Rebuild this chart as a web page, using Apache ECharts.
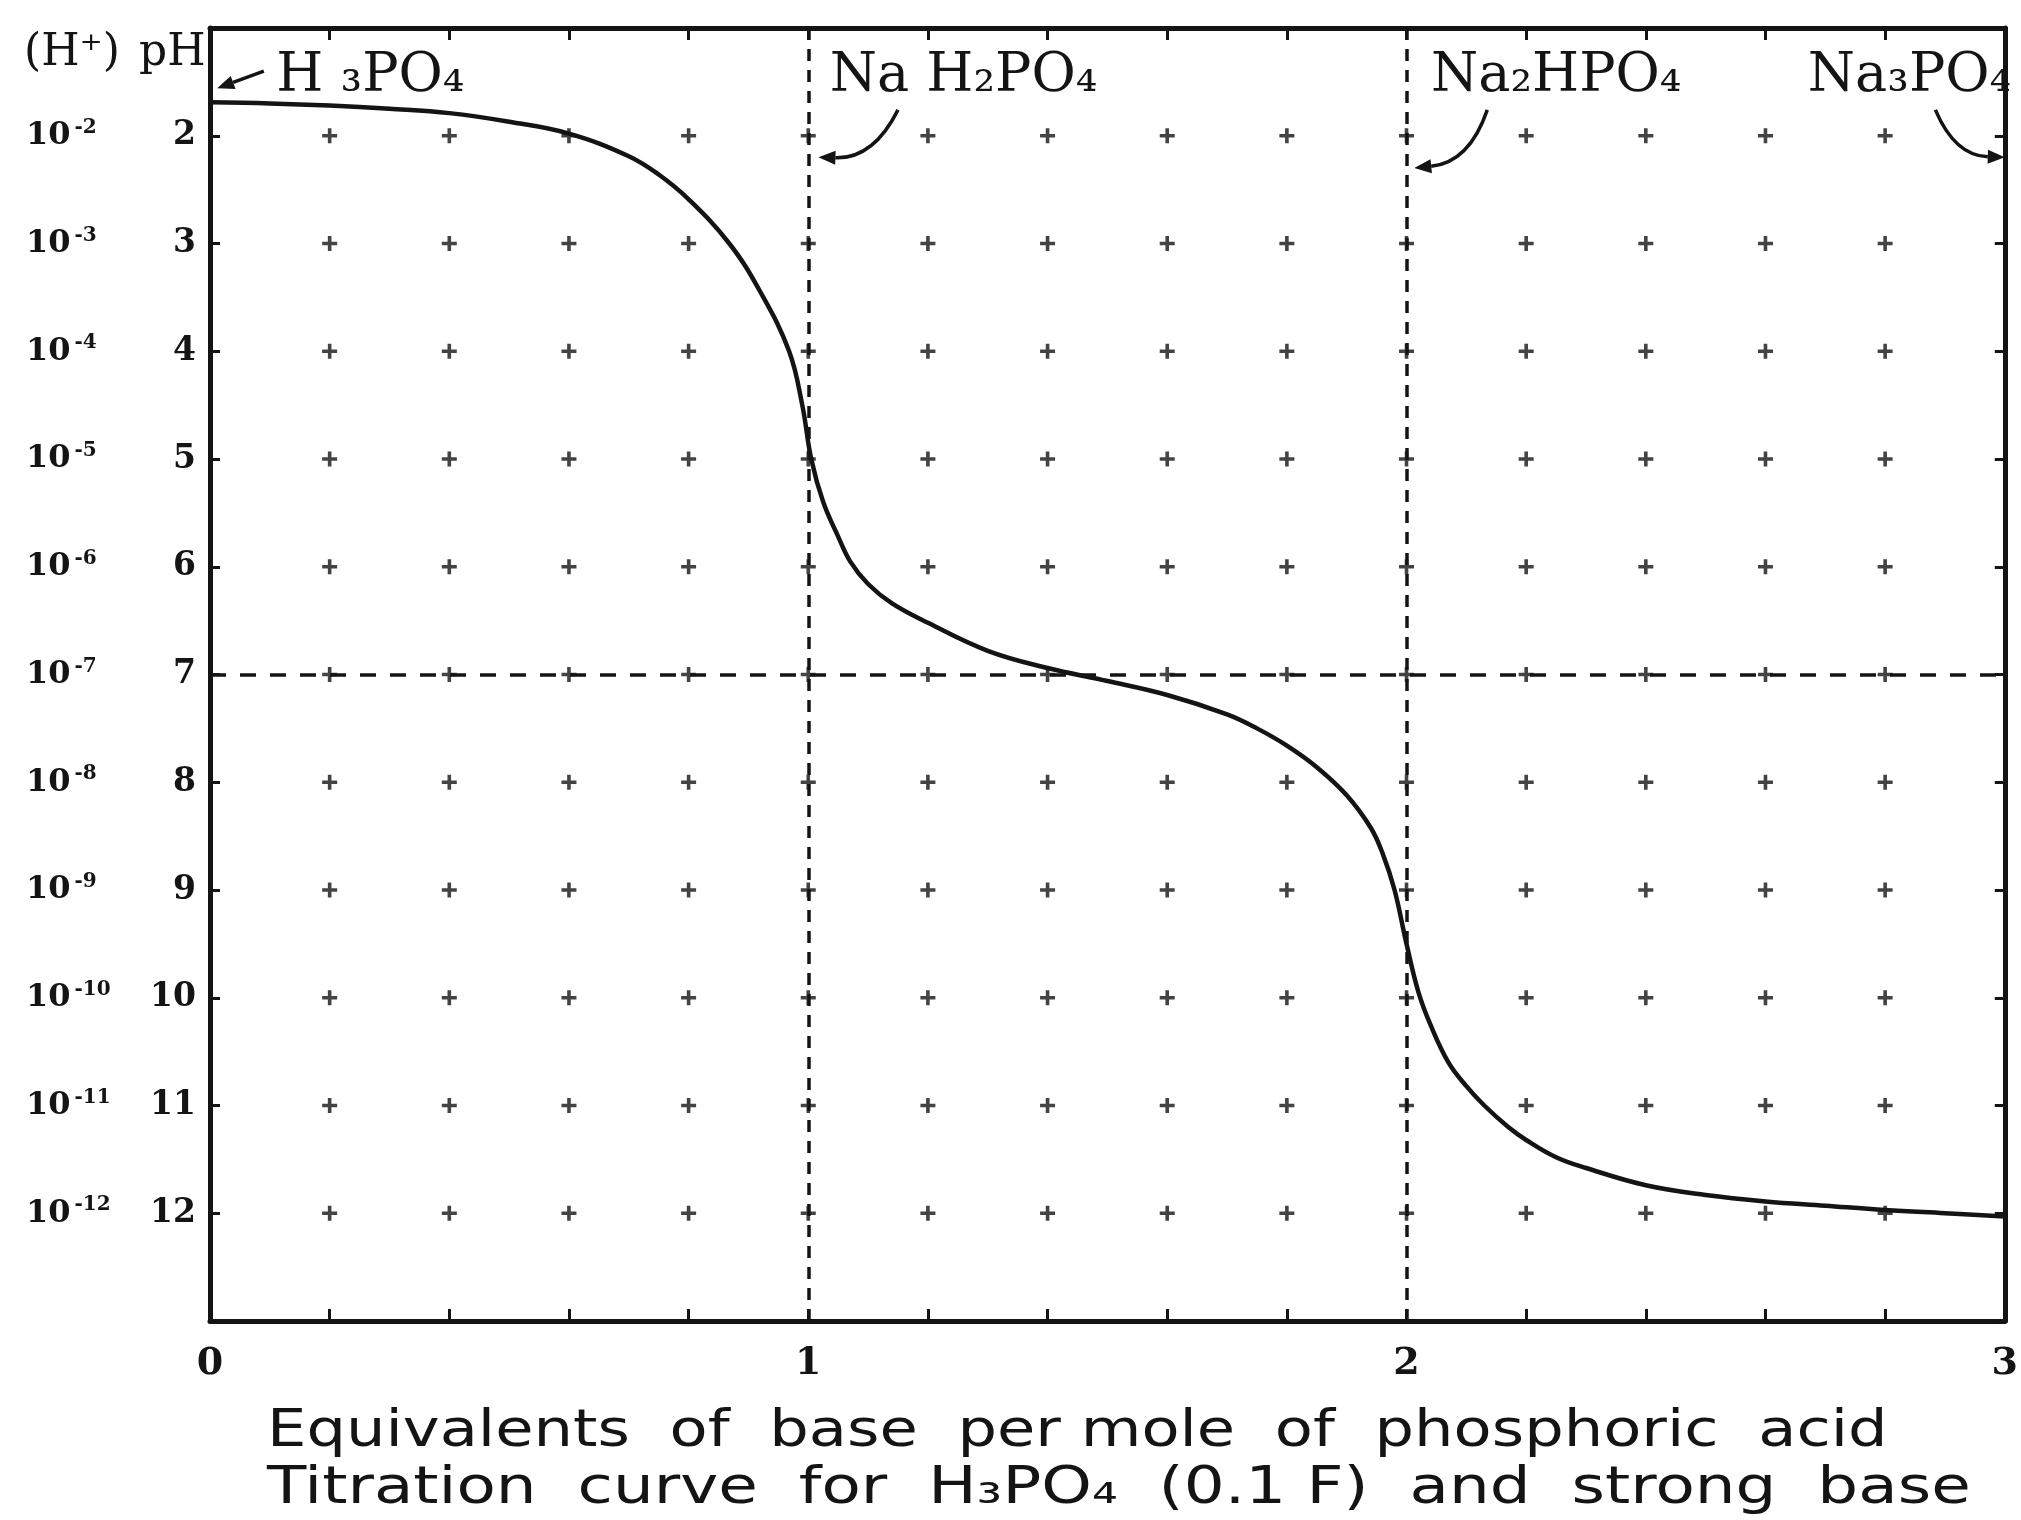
<!DOCTYPE html>
<html>
<head>
<meta charset="utf-8">
<script src="https://cdn.jsdelivr.net/npm/echarts@6/dist/echarts.min.js"></script>
<style>
html,body{margin:0;padding:0;background:#ffffff;}
#chart{width:2021px;height:1520px;}
</style>
</head>
<body>
<div id="chart"></div>
<script>
// ---- data ----
const equivalents = [0, 0.1, 0.2, 0.3, 0.4, 0.5, 0.6, 0.7, 0.75, 0.8, 0.868, 0.92, 0.968, 0.99, 1.005, 1.025, 1.05, 1.07, 1.1, 1.14, 1.2, 1.3, 1.4, 1.5, 1.6, 1.7, 1.75, 1.8, 1.85, 1.9, 1.94, 1.96, 1.98, 2.0, 2.02, 2.04, 2.07, 2.1, 2.13, 2.17, 2.2, 2.25, 2.3, 2.4, 2.5, 2.6, 2.7, 2.8, 2.9, 3.0];
const pHValues    = [1.69, 1.70, 1.72, 1.75, 1.79, 1.87, 1.98, 2.19, 2.36, 2.59, 3.0, 3.45, 4.0, 4.5, 5.0, 5.4, 5.72, 5.95, 6.16, 6.34, 6.52, 6.78, 6.94, 7.06, 7.19, 7.37, 7.5, 7.66, 7.86, 8.12, 8.42, 8.66, 9.0, 9.5, 9.95, 10.25, 10.6, 10.82, 11.0, 11.2, 11.32, 11.48, 11.58, 11.74, 11.83, 11.89, 11.93, 11.97, 12.0, 12.03];

const crossEquivalents = [0.2, 0.4, 0.6, 0.8, 1.0, 1.2, 1.4, 1.6, 1.8, 2.0, 2.2, 2.4, 2.6, 2.8];
const crossPH = [2, 3, 4, 5, 6, 7, 8, 9, 10, 11, 12];

const xTickLabels = ['0', '1', '2', '3'];
const pHTickLabels = ['2', '3', '4', '5', '6', '7', '8', '9', '10', '11', '12'];
const hIonExponents = ['-2', '-3', '-4', '-5', '-6', '-7', '-8', '-9', '-10', '-11', '-12'];

const equivalencePoints = [1, 2];
const neutralPH = [7];

const speciesLabels  = ['H ₃PO₄', 'Na H₂PO₄', 'Na₂HPO₄', 'Na₃PO₄'];
const speciesLabelX  = [0.11, 1.035, 2.04, 2.67];
const speciesLabelPH = [1.45, 1.45, 1.45, 1.45];

const arrowFromX  = [0.09, 1.15, 2.135, 2.884];
const arrowFromPH = [1.40, 1.76, 1.76, 1.76];
const arrowToX    = [0.012, 1.017, 2.013, 3.0];
const arrowToPH   = [1.56, 2.2, 2.3, 2.2];
const arrowBend   = [0, 0.32, 0.32, -0.32];

const xAxisTitle = 'Equivalents  of  base  per mole  of  phosphoric  acid';
const chartTitle = 'Titration  curve  for  H₃PO₄  (0.1 F)  and  strong  base';

// ---- build series data ----
const curveData = equivalents.map((x, i) => [x, pHValues[i]]);
const crossData = [];
crossEquivalents.forEach(x => crossPH.forEach(p => crossData.push([x, p])));

const INK = '#141414';
const serif = '"DejaVu Serif", "Liberation Serif", serif';
const sans = '"DejaVu Sans", "Open Sans", sans-serif';

const isNear = (v, t) => Math.abs(v - t) < 1e-6;

const chart = echarts.init(document.getElementById('chart'), null, {renderer: 'canvas'});

const textGraphics = [
  {id: 'hion', type: 'text', left: 24, top: 32, style: {text: '(H⁺)', fontSize: 44, fontFamily: serif, fill: INK}},
  {id: 'ph', type: 'text', left: 139, top: 32, style: {text: 'pH', fontSize: 44, fontFamily: serif, fill: INK}},
  {id: 'xtitle', type: 'text', x: 267, y: 1407, scaleX: 1.222, style: {text: xAxisTitle, fontSize: 51, fontFamily: sans, fill: INK}},
  {id: 'ctitle', type: 'text', x: 267, y: 1464, scaleX: 1.262, style: {text: chartTitle, fontSize: 51, fontFamily: sans, fill: INK}}
];

const option = {
  backgroundColor: '#ffffff',
  animation: false,
  grid: {left: 210, right: 4, top: 28, bottom: 199, containLabel: false},
  xAxis: [
    {
      type: 'value', min: 0, max: 3, interval: 0.2, position: 'bottom',
      axisLine: {show: true, lineStyle: {color: INK, width: 5}},
      axisTick: {show: true, inside: true, length: 12, lineStyle: {color: INK, width: 3}},
      axisLabel: {
        show: true, margin: 24, fontSize: 38, fontFamily: serif, fontWeight: 'bold', color: INK,
        formatter: v => { const k = xTickLabels.findIndex((t, i) => isNear(v, i)); return k >= 0 ? xTickLabels[k] : ''; }
      },
      splitLine: {show: false}
    },
    {
      type: 'value', min: 0, max: 3, interval: 0.2, position: 'top',
      axisLine: {show: true, lineStyle: {color: INK, width: 5}},
      axisTick: {show: true, inside: true, length: 12, lineStyle: {color: INK, width: 3}},
      axisLabel: {show: false},
      splitLine: {show: false}
    }
  ],
  yAxis: [
    {
      type: 'value', min: 1, max: 13, interval: 1, inverse: true, position: 'left',
      axisLine: {show: true, lineStyle: {color: INK, width: 5}},
      axisTick: {show: true, inside: true, length: 10, lineStyle: {color: INK, width: 3}},
      axisLabel: {
        show: true, margin: 14, fontSize: 33, fontFamily: serif, fontWeight: 'bold', color: INK,
        formatter: v => { const k = pHTickLabels.indexOf(String(v)); return k >= 0 ? pHTickLabels[k] : ''; }
      },
      splitLine: {show: false}
    },
    {
      type: 'value', min: 1, max: 13, interval: 1, inverse: true, position: 'left',
      axisLine: {show: false}, axisTick: {show: false},
      axisLabel: {
        show: true, margin: 184, align: 'left', color: INK,
        formatter: v => { const k = pHTickLabels.indexOf(String(v)); return k >= 0 ? '{b|10}{s|' + hIonExponents[k] + '}' : ''; },
        rich: {
          b: {fontSize: 32, fontFamily: serif, fontWeight: 'bold', color: INK, lineHeight: 36},
          s: {fontSize: 20, fontFamily: serif, fontWeight: 'bold', color: INK, verticalAlign: 'top', lineHeight: 36, padding: [0, 0, 0, 4]}
        }
      },
      splitLine: {show: false}
    },
    {
      type: 'value', min: 1, max: 13, interval: 1, inverse: true, position: 'right',
      axisLine: {show: true, lineStyle: {color: INK, width: 5}},
      axisTick: {show: true, inside: true, length: 10, lineStyle: {color: INK, width: 3}},
      axisLabel: {show: false},
      splitLine: {show: false}
    }
  ],
  series: [
    {
      name: 'grid crosses', type: 'scatter', xAxisIndex: 0, yAxisIndex: 0,
      data: crossData,
      symbol: 'path://M3.8,0h2.4v3.8h3.8v2.4h-3.8v3.8h-2.4v-3.8h-3.8v-2.4h3.8z',
      symbolSize: 15,
      itemStyle: {color: INK},
      silent: true, z: 2,
      markLine: {
        silent: true, symbol: ['none', 'none'], label: {show: false},
        data: [
          ...equivalencePoints.map(x => ({xAxis: x, lineStyle: {type: [12, 9], width: 3.5, color: INK}})),
          ...neutralPH.map(p => ({yAxis: p, lineStyle: {type: [16, 14], width: 3.5, color: INK}}))
        ]
      }
    },
    {
      name: 'titration curve', type: 'line', xAxisIndex: 0, yAxisIndex: 0,
      data: curveData, smooth: 0.4, showSymbol: false, symbol: 'none',
      lineStyle: {color: INK, width: 4.5}, z: 3, silent: true,
      markPoint: {
        silent: true, symbol: 'rect', symbolSize: 1,
        itemStyle: {color: 'rgba(0,0,0,0)'},
        label: {
          show: true, position: 'right', distance: 0,
          fontSize: 54, fontFamily: serif, color: INK,
          formatter: p => p.name
        },
        data: speciesLabels.map((t, i) => ({name: t, coord: [speciesLabelX[i], speciesLabelPH[i]]}))
      }
    }
  ],
  graphic: textGraphics
};
chart.setOption(option);

// curved annotation arrows, placed through the chart's own scales
const toPx = (x, y) => chart.convertToPixel({xAxisIndex: 0, yAxisIndex: 0}, [x, y]);
const arrowGraphics = [];
arrowFromX.forEach((x, i) => {
  const a = toPx(x, arrowFromPH[i]);
  const b = toPx(arrowToX[i], arrowToPH[i]);
  const c = arrowBend[i];
  const mx = (a[0] + b[0]) / 2, my = (a[1] + b[1]) / 2;
  const cp = [mx - (a[1] - b[1]) * c, my - (b[0] - a[0]) * c];
  const ang = Math.atan2(b[1] - cp[1], b[0] - cp[0]);
  const L = 17, W = 7;
  const base = [b[0] - L * Math.cos(ang), b[1] - L * Math.sin(ang)];
  const nx = -Math.sin(ang), ny = Math.cos(ang);
  arrowGraphics.push({
    id: 'arrowLine' + i, type: 'bezierCurve', silent: true, z: 10,
    shape: {x1: a[0], y1: a[1], x2: base[0], y2: base[1], cpx1: cp[0], cpy1: cp[1]},
    style: {stroke: INK, lineWidth: 3.5, fill: null}
  });
  arrowGraphics.push({
    id: 'arrowHead' + i, type: 'polygon', silent: true, z: 10,
    shape: {points: [b, [base[0] + nx * W, base[1] + ny * W], [base[0] - nx * W, base[1] - ny * W]]},
    style: {fill: INK}
  });
});
chart.setOption({graphic: textGraphics.concat(arrowGraphics)});
</script>
</body>
</html>
